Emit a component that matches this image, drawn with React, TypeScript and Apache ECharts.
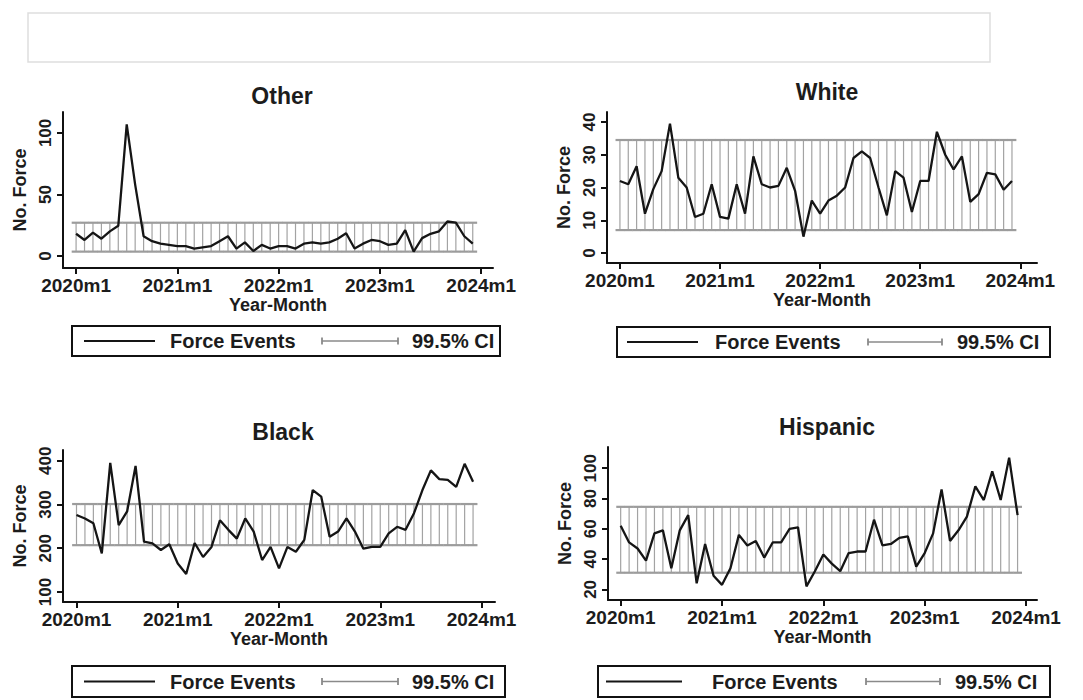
import React, { useEffect, useRef } from "react";
import * as echarts from "echarts";

// ---- data ----
const monthIndex = [0,1,2,3,4,5,6,7,8,9,10,11,12,13,14,15,16,17,18,19,20,21,22,23,24,25,26,27,28,29,30,31,32,33,34,35,36,37,38,39,40,41,42,43,44,45,46,47];
const xTickValues = [0, 12, 24, 36, 48];
const xTickLabels = ["2020m1", "2021m1", "2022m1", "2023m1", "2024m1"];

const otherForce = [18,13,19,14,20,24.5, 107,58,16,12,10,9, 8,8,6,7,8,12, 16,6,11,4,9,6, 8,8,6,10,11,10, 11,14,18.5,6,10,13, 12,9,10,21,3.5,14.5, 18,20,28,27,16,10];
const whiteForce = [22,21,26.5,12,19.5,25, 39.5,23,20,11,12,21, 11,10.5,21,12,29.5,21, 20,20.5,26,19,5,16, 12,16,17.5,20,29,31, 29,20,11.5,25,23,12.5, 22,22,37,30,25.5,29.5, 15.6,18,24.5,24,19.3,22];
const blackForce = [276,268,257,188,395,253, 284,388,215,211,196,209, 165,141,212,180,203,264, 242,222,268,238,173,203, 154,203,192,219,333,318, 226,238,268,238,199,203, 203,234,249,242,280,333, 378,358,356,340,393,352];
const hispanicForce = [62,51,47,39,57,59, 34,59,69,24,50,29, 23,34,56,49,52,41, 51,51,60,61,22,32, 43,37,32,44,45,45, 66,49,50,54,55,35, 44,57,86,52,59,68, 88,79,98,79,107,69];

const otherCI = [3.5, 27];
const whiteCI = [7, 34.5];
const blackCI = [207, 301];
const hispanicCI = [31, 74.5];

const otherYTicks = [0, 50, 100];
const whiteYTicks = [0, 10, 20, 30, 40];
const blackYTicks = [100, 200, 300, 400];
const hispanicYTicks = [20, 40, 60, 80, 100];

const legendLabels = ["Force Events", "99.5% CI"];

// ---- layout ----
const FONT = "'Liberation Sans', Arial, Helvetica, sans-serif";
const TXT = "#1c1c1c";
const panels = [
  { title: "Other", data: otherForce, ci: otherCI, yTicks: otherYTicks,
    grid: { left: 63, top: 112, width: 430, height: 156 }, xr: [-1.55, 49.4], yr: [-9.8, 117],
    titlePos: [277, 80], legend: { x: 72, y: 326, w: 428, h: 30, l1: [84, 155], t1: 170, c: [322, 398], t2: 412 } },
  { title: "White", data: whiteForce, ci: whiteCI, yTicks: whiteYTicks,
    grid: { left: 607, top: 112, width: 430, height: 151 }, xr: [-1.55, 50.0], yr: [-3.05, 43.05],
    titlePos: [822, 76], legend: { x: 617, y: 327, w: 433, h: 30, l1: [627, 698], t1: 715, c: [868, 942], t2: 957 } },
  { title: "Black", data: blackForce, ci: blackCI, yTicks: blackYTicks,
    grid: { left: 63, top: 450, width: 432, height: 152 }, xr: [-1.6, 49.6], yr: [77.1, 424.5],
    titlePos: [278, 416], legend: { x: 72, y: 666, w: 433, h: 31, l1: [84, 155], t1: 170, c: [322, 398], t2: 412 } },
  { title: "Hispanic", data: hispanicForce, ci: hispanicCI, yTicks: hispanicYTicks,
    grid: { left: 608, top: 447, width: 429, height: 153 }, xr: [-1.5, 49.3], yr: [13, 114],
    titlePos: [822, 411], legend: { x: 598, y: 666, w: 452, h: 31, l1: [606, 682], t1: 712, c: [866, 940], t2: 955 } },
];

export default function App() {
  const ref = useRef<HTMLDivElement>(null);
  useEffect(() => {
    if (!ref.current) return;
    const chart = echarts.init(ref.current, undefined, { renderer: "svg" });

    const grids: any[] = [];
    const xAxes: any[] = [];
    const yAxes: any[] = [];
    const series: any[] = [];
    const titles: any[] = [];
    const graphics: any[] = [];

    // faint empty box at top
    graphics.push({ type: "rect", shape: { x: 28, y: 13, width: 962, height: 49 }, style: { fill: "none", stroke: "#dedede", lineWidth: 1.5 } });

    panels.forEach((p, k) => {
      grids.push({ ...p.grid });
      xAxes.push({
        gridIndex: k, type: "value", min: p.xr[0], max: p.xr[1],
        name: "Year-Month", nameLocation: "middle", nameGap: 28,
        nameTextStyle: { fontFamily: FONT, fontSize: 18, fontWeight: "bold", color: TXT },
        axisLine: { show: true, onZero: false, lineStyle: { color: "#111", width: 2 } },
        axisTick: { show: true, length: 6, customValues: xTickValues, lineStyle: { color: "#111", width: 2 } },
        axisLabel: { customValues: xTickValues, margin: 8, fontFamily: FONT, fontSize: 19, fontWeight: "bold", color: TXT,
          formatter: (v: number) => xTickLabels[xTickValues.indexOf(Math.round(v))] ?? "" },
        splitLine: { show: false },
      });
      yAxes.push({
        gridIndex: k, type: "value", min: p.yr[0], max: p.yr[1],
        name: "No. Force", nameLocation: "middle", nameGap: 34, nameRotate: 90,
        nameTextStyle: { fontFamily: FONT, fontSize: 18, fontWeight: "bold", color: TXT },
        axisLine: { show: true, onZero: false, lineStyle: { color: "#111", width: 2 } },
        axisTick: { show: true, length: 6, customValues: p.yTicks, lineStyle: { color: "#111", width: 2 } },
        axisLabel: { customValues: p.yTicks, rotate: 90, margin: 9, fontFamily: FONT, fontSize: 17, fontWeight: "bold", color: TXT },
        splitLine: { show: false },
      });
      series.push({
        type: "custom", xAxisIndex: k, yAxisIndex: k,
        data: monthIndex.map((m) => [m, p.ci[0], p.ci[1]]),
        renderItem: (params: any, api: any) => {
          const x = api.value(0);
          const lo = api.coord([x, api.value(1)]);
          const hi = api.coord([x, api.value(2)]);
          const h = 4.4;
          return {
            type: "group",
            children: [
              { type: "line", shape: { x1: lo[0], y1: lo[1], x2: hi[0], y2: hi[1] }, style: { stroke: "#a3a3a3", lineWidth: 1.2 } },
              { type: "line", shape: { x1: hi[0] - h, y1: hi[1], x2: hi[0] + h, y2: hi[1] }, style: { stroke: "#9c9c9c", lineWidth: 2.2 } },
              { type: "line", shape: { x1: lo[0] - h, y1: lo[1], x2: lo[0] + h, y2: lo[1] }, style: { stroke: "#9c9c9c", lineWidth: 2.2 } },
            ],
          };
        },
        silent: true,
      });
      series.push({
        type: "line", xAxisIndex: k, yAxisIndex: k, name: legendLabels[0],
        data: monthIndex.map((m, i) => [m, p.data[i]]),
        showSymbol: false, symbol: "none",
        lineStyle: { color: "#151515", width: 2.3 },
      });
      titles.push({
        text: p.title, left: p.titlePos[0], top: p.titlePos[1] - 1, textAlign: "center",
        textStyle: { fontFamily: FONT, fontSize: 23, fontWeight: "bold", color: TXT },
      });
      const L = p.legend;
      const my = L.y + L.h / 2;
      graphics.push({ type: "rect", shape: { x: L.x, y: L.y, width: L.w, height: L.h }, style: { fill: "#fff", stroke: "#111", lineWidth: 2 } });
      graphics.push({ type: "line", shape: { x1: L.l1[0], y1: my, x2: L.l1[1], y2: my }, style: { stroke: "#151515", lineWidth: 2.2 } });
      graphics.push({ type: "text", x: L.t1, y: my, style: { text: legendLabels[0], fill: TXT, font: `bold 20px ${FONT}`, textAlign: "left", textVerticalAlign: "middle", align: "left", verticalAlign: "middle" } });
      graphics.push({ type: "line", shape: { x1: L.c[0], y1: my, x2: L.c[1], y2: my }, style: { stroke: "#8a8a8a", lineWidth: 1.5 } });
      graphics.push({ type: "line", shape: { x1: L.c[0], y1: my - 3.5, x2: L.c[0], y2: my + 3.5 }, style: { stroke: "#8a8a8a", lineWidth: 1.8 } });
      graphics.push({ type: "line", shape: { x1: L.c[1], y1: my - 3.5, x2: L.c[1], y2: my + 3.5 }, style: { stroke: "#8a8a8a", lineWidth: 1.8 } });
      graphics.push({ type: "text", x: L.t2, y: my, style: { text: legendLabels[1], fill: TXT, font: `bold 20px ${FONT}`, textAlign: "left", textVerticalAlign: "middle", align: "left", verticalAlign: "middle" } });
    });

    chart.setOption({
      animation: false,
      backgroundColor: "#ffffff",
      title: titles,
      grid: grids,
      xAxis: xAxes,
      yAxis: yAxes,
      series,
      graphic: graphics,
    });
    return () => chart.dispose();
  }, []);
  return <div ref={ref} style={{ position: "fixed", left: 0, top: 0, width: 1083, height: 700, background: "#fff" }} />;
}
